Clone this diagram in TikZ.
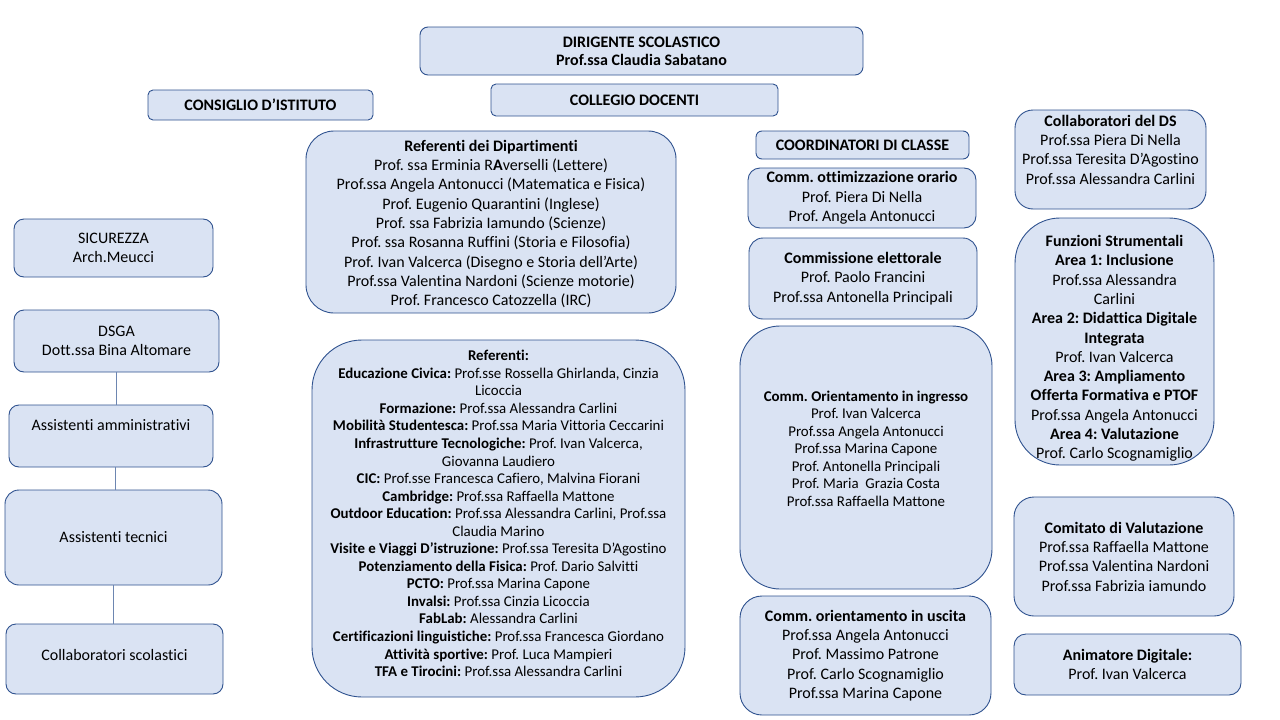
\documentclass[tikz,border=0pt]{standalone}
\usepackage{fontspec}
\setmainfont{Carlito}[Ligatures=NoCommon]
\frenchspacing
\definecolor{fillc}{HTML}{DAE3F3}
\definecolor{bordc}{HTML}{2F528F}
\tikzset{
  box/.style={draw=bordc, fill=fillc, line width=0.9pt, inner sep=0pt, align=center},
  txt/.style={align=center, inner sep=0pt},
  fa/.style={font=\fontsize{16}{19.3}\selectfont},
  fb/.style={font=\fontsize{14.9}{17.55}\selectfont},
  fc/.style={font=\fontsize{16}{18}\selectfont\bfseries},
  conn/.style={draw=bordc!70, line width=0.8pt}
}
\begin{document}
\begin{tikzpicture}[x=1pt,y=-1pt]
\useasboundingbox (0,0) rectangle (1280,720);

% top
\node[box, fc, minimum width=443, minimum height=48, rounded corners=8] (ds) at (641.5,51)
  {DIRIGENTE SCOLASTICO\\Prof.ssa Claudia Sabatano};
\node[box, fc, minimum width=225, minimum height=30, rounded corners=5] (ci) at (260.5,105)
  {CONSIGLIO D’ISTITUTO};
\node[box, fc, minimum width=287, minimum height=32, rounded corners=5] (cd) at (634.5,100)
  {COLLEGIO DOCENTI};

% referenti dipartimenti
\node[box, minimum width=370, minimum height=182, rounded corners=28] (rd) at (491,222) {};
\node[txt, fa] (rdt) at ([yshift=-2]rd.center)
  {\textbf{Referenti dei Dipartimenti}\\
   Prof.\ ssa Erminia R\textbf{A}verselli (Lettere)\\
   Prof.ssa Angela Antonucci\ (Matematica e Fisica)\\
   Prof.\ Eugenio Quarantini (Inglese)\\
   Prof.\ ssa Fabrizia Iamundo\ (Scienze)\\
   Prof.\ ssa Rosanna Ruffini (Storia e Filosofia)\\
   Prof.\ Ivan Valcerca (Disegno e Storia\ dell’Arte)\\
   Prof.ssa Valentina Nardoni\ (Scienze motorie)\\
   Prof.\ Francesco Catozzella (IRC)};

% referenti
\node[box, minimum width=373, minimum height=357, rounded corners=50] (rf) at (498.5,518.5) {};
\node[txt, fb] (rft) at ([yshift=5]rf.center)
  {\textbf{Referenti:}\\
   \textbf{Educazione Civica:} Prof.sse Rossella Ghirlanda, Cinzia\\
   Licoccia\\
   \textbf{Formazione:} Prof.ssa Alessandra Carlini\\
   \textbf{Mobilità Studentesca:} Prof.ssa Maria Vittoria Ceccarini\\
   \textbf{Infrastrutture Tecnologiche:} Prof. Ivan Valcerca,\\
   Giovanna Laudiero\\
   \textbf{CIC:} Prof.sse Francesca Cafiero, Malvina Fiorani\\
   \textbf{Cambridge:} Prof.ssa Raffaella Mattone\\
   \textbf{Outdoor Education:} Prof.ssa Alessandra Carlini, Prof.ssa\\
   Claudia Marino\\
   \textbf{Visite e Viaggi D’istruzione:} Prof.ssa Teresita D’Agostino\\
   \textbf{Potenziamento della Fisica:} Prof. Dario Salvitti\\
   \textbf{PCTO:} Prof.ssa Marina Capone\\
   \textbf{Invalsi:} Prof.ssa Cinzia Licoccia\\
   \textbf{FabLab:} Alessandra Carlini\\
   \textbf{Certificazioni linguistiche:} Prof.ssa Francesca Giordano\\
   \textbf{Attività sportive:} Prof. Luca Mampieri\\
   \textbf{TFA e Tirocini:} Prof.ssa Alessandra Carlini};

% middle column
\node[box, fc, minimum width=213, minimum height=28, rounded corners=6] (cc) at (862.5,145)
  {COORDINATORI DI CLASSE};
\node[box, fa, minimum width=228, minimum height=60, rounded corners=12] (co) at (862,198)
  {\textbf{Comm. ottimizzazione orario}\\Prof.\ Piera Di Nella\\Prof.\ Angela Antonucci};
\node[box, fa, minimum width=228, minimum height=81, rounded corners=14] (ce) at (863,278.5)
  {\textbf{Commissione elettorale}\\Prof.\ Paolo Francini\\Prof.ssa Antonella Principali};
\node[box, minimum width=252, minimum height=263, rounded corners=40] (oi) at (866,457.5) {};
\node[txt, fb] (oit) at ([yshift=9]oi.center)
  {\textbf{Comm. Orientamento in ingresso}\\Prof. Ivan Valcerca\\Prof.ssa Angela Antonucci\\
   Prof.ssa Marina Capone\\Prof. Antonella Principali\\Prof. Maria\ \ Grazia Costa\\
   Prof.ssa Raffaella Mattone};
\node[box, fa, minimum width=251, minimum height=119, rounded corners=22] (ou) at (865.5,655.5)
  {\textbf{Comm. orientamento in uscita}\\Prof.ssa Angela Antonucci\\Prof.\ Massimo Patrone\\
   Prof.\ Carlo Scognamiglio\\Prof.ssa Marina Capone};

% right column
\node[box, minimum width=191, minimum height=99, rounded corners=18] (cds) at (1110.5,159.5) {};
\node[txt, fa] (cdst) at ([yshift=10]cds.center)
  {\textbf{Collaboratori del DS}\\Prof.ssa Piera Di Nella\\Prof.ssa Teresita D’Agostino\\Prof.ssa Alessandra Carlini};
\node[box, minimum width=199, minimum height=247, rounded corners=45] (fs) at (1114.5,341.5) {};
\node[txt, fa] (fst) at ([yshift=-7]fs.center)
  {\textbf{Funzioni Strumentali}\\\textbf{Area 1: Inclusione}\\Prof.ssa Alessandra\\Carlini\\
   \textbf{Area 2: Didattica Digitale}\\\textbf{Integrata}\\Prof.\ Ivan Valcerca\\
   \textbf{Area 3: Ampliamento}\\\textbf{Offerta Formativa e PTOF}\\Prof.ssa Angela Antonucci\\
   \textbf{Area 4: Valutazione}\\Prof.\ Carlo Scognamiglio};
\node[box, fa, minimum width=220, minimum height=119, rounded corners=20] (cv) at (1124,556.5)
  {\textbf{Comitato di Valutazione}\\Prof.ssa Raffaella Mattone\\Prof.ssa Valentina Nardoni\\Prof.ssa Fabrizia iamundo};
\node[box, fa, minimum width=227, minimum height=61, rounded corners=12] (ad) at (1127.5,664.5)
  {\textbf{Animatore Digitale:}\\Prof.\ Ivan Valcerca};

% left column
\node[box, fa, minimum width=199, minimum height=58, rounded corners=10] (sic) at (113.5,248)
  {SICUREZZA\\Arch.Meucci};
\node[box, fa, minimum width=205, minimum height=62, rounded corners=10] (dsga) at (116.5,341)
  {DSGA\\Dott.ssa Bina Altomare};
\node[box, minimum width=204, minimum height=62, rounded corners=10] (am) at (111,436) {};
\node[txt, fa] (amt) at ([yshift=11]am.center) {Assistenti amministrativi};
\node[box, fa, minimum width=217, minimum height=95, rounded corners=14] (at) at (113.5,537.5)
  {Assistenti tecnici};
\node[box, minimum width=217, minimum height=70, rounded corners=10] (cs) at (114.5,659) {};
\node[txt, fa] (cst) at ([yshift=4]cs.center) {Collaboratori scolastici};

\draw[conn] (dsga.south) -- (dsga.south |- am.north);
\draw[conn] ([xshift=4]am.south) -- ([xshift=4]am.south |- at.north);
\draw[conn] (at.south) -- (at.south |- cs.north);
\end{tikzpicture}
\end{document}
